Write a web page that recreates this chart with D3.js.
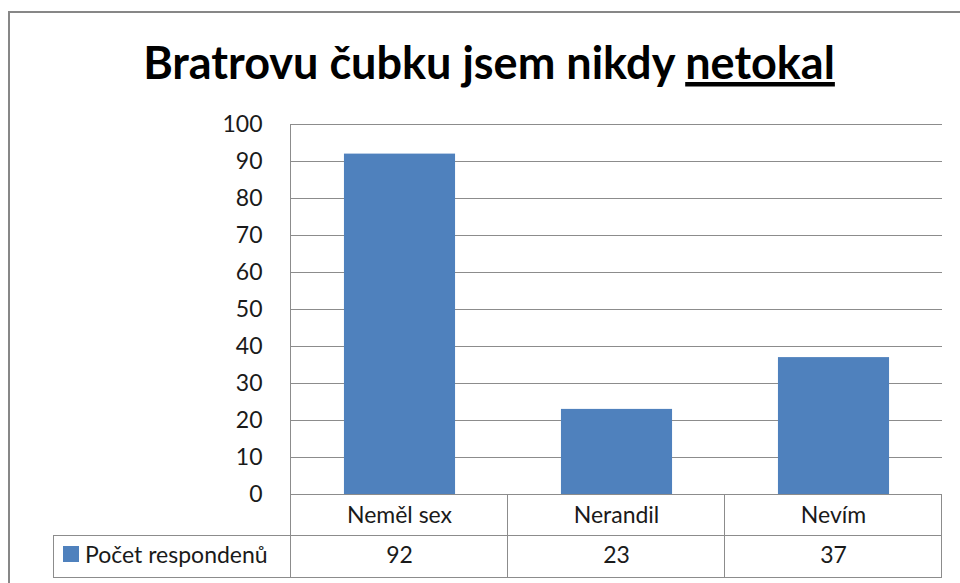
<!DOCTYPE html>
<html>
<head>
<meta charset="utf-8">
<script src="https://cdn.jsdelivr.net/npm/d3@7"></script>
<style>
  body { margin: 0; background: white; }
  svg { display: block; font-family: Lato, "Open Sans", sans-serif; }
</style>
</head>
<body>
<div id="chart"></div>
<script>
// data
var categories = ["Neměl sex", "Nerandil", "Nevím"];
var seriesName = "Počet respondenů";
var values = [92, 23, 37];
var yTicks = [0, 10, 20, 30, 40, 50, 60, 70, 80, 90, 100];

var w = 960, h = 583;
var plotLeft = 291, plotRight = 942, plotTop = 124, plotBottom = 494;
var gray = "#8c8c8c", barColor = "#4f81bd", textColor = "#1a1a1a";
var labelSize = "23px";

var svg = d3.select("#chart")
    .append("svg")
    .attr("width", w)
    .attr("height", h);

// outer frame (runs off the right and bottom edge)
svg.append("rect")
    .attr("x", 9)
    .attr("y", 12)
    .attr("width", 1000)
    .attr("height", 600)
    .attr("fill", "white")
    .attr("stroke", "#878787")
    .attr("stroke-width", 2);

// title
var title = svg.append("text")
    .attr("x", 489)
    .attr("y", 79)
    .style("font-size", "45px")
    .style("font-weight", "bold")
    .style("text-anchor", "middle")
    .attr("fill", "#000");
title.append("tspan").text("Bratrovu čubku jsem nikdy ");
title.append("tspan").style("text-decoration", "underline").text("netokal");

var x = d3.scaleBand()
    .domain(categories)
    .range([plotLeft, plotRight])
    .paddingInner(0.488)
    .paddingOuter(0.244);

var y = d3.scaleLinear()
    .domain([0, 100])
    .range([plotBottom, plotTop]);

// gridlines
svg.append("g")
    .selectAll("line")
    .data(yTicks)
    .enter()
    .append("line")
    .attr("x1", plotLeft)
    .attr("x2", plotRight)
    .attr("y1", function (d) { return Math.round(y(d)) + 0.5; })
    .attr("y2", function (d) { return Math.round(y(d)) + 0.5; })
    .attr("stroke", gray)
    .attr("stroke-width", 1);

// bars
svg.append("g")
    .selectAll("rect")
    .data(values)
    .enter()
    .append("rect")
    .attr("x", function (d, i) { return x(categories[i]); })
    .attr("y", function (d) { return y(d); })
    .attr("width", x.bandwidth())
    .attr("height", function (d) { return y(0) - y(d); })
    .attr("fill", barColor);

// y axis
var yAxis = d3.axisLeft(y)
    .tickValues(yTicks)
    .tickSize(0)
    .tickPadding(28);

var ya = svg.append("g")
    .attr("transform", "translate(" + (plotLeft - 0.5) + ",0)")
    .call(yAxis);
ya.select(".domain").attr("stroke", gray).attr("d", "M0," + plotTop + "V" + plotBottom);
ya.selectAll("text")
    .style("font-family", "Lato, sans-serif")
    .style("font-size", labelSize)
    .attr("fill", textColor);

// data table
var row1 = plotBottom, row2 = 535, row3 = 577, tableLeft = 53;
var step = x.step();
var table = svg.append("g")
    .attr("stroke", gray)
    .attr("stroke-width", 1)
    .attr("fill", "none");

table.append("line").attr("x1", tableLeft).attr("x2", plotRight).attr("y1", row2 + 0.5).attr("y2", row2 + 0.5);
table.append("line").attr("x1", tableLeft).attr("x2", plotRight).attr("y1", row3 + 0.5).attr("y2", row3 + 0.5);
table.append("line").attr("x1", tableLeft + 0.5).attr("x2", tableLeft + 0.5).attr("y1", row2).attr("y2", row3);
table.selectAll(".vline")
    .data(d3.range(categories.length + 1))
    .enter()
    .append("line")
    .attr("x1", function (i) { return Math.round(plotLeft + i * step) - 0.5; })
    .attr("x2", function (i) { return Math.round(plotLeft + i * step) - 0.5; })
    .attr("y1", row1)
    .attr("y2", row3);

svg.append("g")
    .selectAll("text")
    .data(categories)
    .enter()
    .append("text")
    .attr("x", function (d) { return x(d) + x.bandwidth() / 2; })
    .attr("y", 523)
    .style("font-size", labelSize)
    .style("text-anchor", "middle")
    .attr("fill", textColor)
    .text(function (d) { return d; });

svg.append("g")
    .selectAll("text")
    .data(values)
    .enter()
    .append("text")
    .attr("x", function (d, i) { return x(categories[i]) + x.bandwidth() / 2; })
    .attr("y", 563)
    .style("font-size", labelSize)
    .style("text-anchor", "middle")
    .attr("fill", textColor)
    .text(function (d) { return d; });

// legend key
svg.append("rect")
    .attr("x", 63)
    .attr("y", 546)
    .attr("width", 16)
    .attr("height", 16)
    .attr("fill", barColor);

svg.append("text")
    .attr("x", 85)
    .attr("y", 563)
    .style("font-size", labelSize)
    .attr("fill", textColor)
    .text(seriesName);
</script>
</body>
</html>
